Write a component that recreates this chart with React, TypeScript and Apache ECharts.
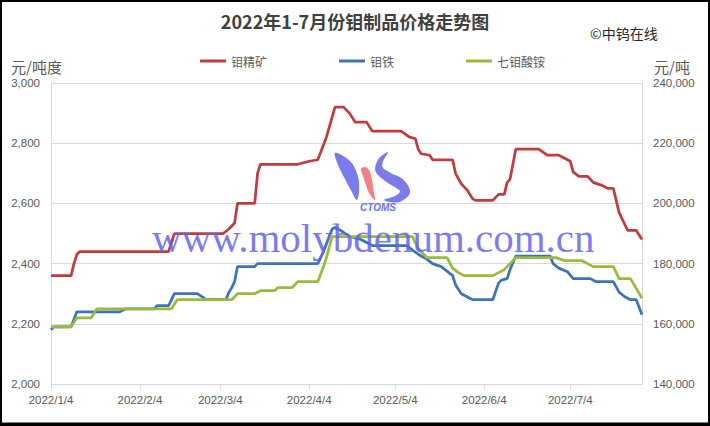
import React, { useEffect, useRef } from 'react';
import * as echarts from 'echarts';

// ---------- data ----------
const titleText = '2022年1-7月份钼制品价格走势图';
const seriesNames = ['钼精矿', '钼铁', '七钼酸铵'];
const leftTicks = { min: 2000, max: 3000, step: 200 };
const rightTicks = { min: 140000, max: 240000, step: 20000 };

const concentrate: [string, number][] = [
  ['2022/1/4', 2360], ['2022/1/11', 2360], ['2022/1/12', 2400], ['2022/1/13', 2430], ['2022/1/14', 2440],
  ['2022/2/14', 2440], ['2022/2/16', 2500], ['2022/3/5', 2500], ['2022/3/7', 2515], ['2022/3/9', 2535],
  ['2022/3/10', 2600], ['2022/3/16', 2600], ['2022/3/17', 2700], ['2022/3/18', 2730], ['2022/3/31', 2730],
  ['2022/4/4', 2740], ['2022/4/7', 2745], ['2022/4/10', 2820], ['2022/4/13', 2920], ['2022/4/16', 2920],
  ['2022/4/18', 2900], ['2022/4/20', 2870], ['2022/4/24', 2870], ['2022/4/26', 2840], ['2022/5/6', 2840],
  ['2022/5/9', 2820], ['2022/5/11', 2815], ['2022/5/12', 2780], ['2022/5/13', 2765], ['2022/5/16', 2760],
  ['2022/5/17', 2745], ['2022/5/24', 2745], ['2022/5/25', 2700], ['2022/5/27', 2665], ['2022/5/29', 2645],
  ['2022/5/31', 2615], ['2022/6/1', 2610], ['2022/6/7', 2610], ['2022/6/9', 2630], ['2022/6/11', 2630],
  ['2022/6/12', 2670], ['2022/6/13', 2680], ['2022/6/15', 2780], ['2022/6/23', 2780], ['2022/6/26', 2760],
  ['2022/6/30', 2760], ['2022/7/4', 2740], ['2022/7/5', 2705], ['2022/7/7', 2690], ['2022/7/10', 2690],
  ['2022/7/12', 2670], ['2022/7/15', 2660], ['2022/7/17', 2650], ['2022/7/19', 2650], ['2022/7/21', 2570],
  ['2022/7/24', 2510], ['2022/7/27', 2510], ['2022/7/29', 2480],
];

const ferroMo: [string, number][] = [
  ['2022/1/4', 158000], ['2022/1/5', 159000], ['2022/1/11', 159000], ['2022/1/13', 164000], ['2022/1/28', 164000],
  ['2022/1/30', 165000], ['2022/2/9', 165000], ['2022/2/10', 166000], ['2022/2/14', 166000], ['2022/2/16', 170000],
  ['2022/2/24', 170000], ['2022/2/26', 168800], ['2022/2/27', 168000], ['2022/3/6', 168000], ['2022/3/7', 170500],
  ['2022/3/8', 172000], ['2022/3/9', 174000], ['2022/3/10', 179000], ['2022/3/16', 179000], ['2022/3/17', 180000],
  ['2022/4/7', 180000], ['2022/4/9', 184000], ['2022/4/12', 191500], ['2022/4/13', 192000], ['2022/4/15', 191000],
  ['2022/4/18', 189000], ['2022/4/22', 188000], ['2022/4/26', 186000], ['2022/5/8', 186000], ['2022/5/10', 184500],
  ['2022/5/13', 182500], ['2022/5/15', 181500], ['2022/5/17', 180000], ['2022/5/20', 179000], ['2022/5/22', 177500],
  ['2022/5/24', 176000], ['2022/5/25', 173000], ['2022/5/27', 170000], ['2022/5/29', 169000], ['2022/5/31', 168000],
  ['2022/6/7', 168000], ['2022/6/9', 173500], ['2022/6/10', 174500], ['2022/6/12', 175000], ['2022/6/13', 178000],
  ['2022/6/15', 182500], ['2022/6/27', 182500], ['2022/6/28', 180000], ['2022/6/30', 178500], ['2022/7/3', 177300],
  ['2022/7/5', 175000], ['2022/7/11', 175000], ['2022/7/13', 174000], ['2022/7/19', 174000], ['2022/7/21', 170500],
  ['2022/7/23', 169000], ['2022/7/25', 168000], ['2022/7/27', 168000], ['2022/7/29', 163000],
];

const apm: [string, number][] = [
  ['2022/1/4', 159000], ['2022/1/11', 159000], ['2022/1/13', 162000], ['2022/1/18', 162000], ['2022/1/20', 165000],
  ['2022/2/15', 165000], ['2022/2/17', 168000], ['2022/3/8', 168000], ['2022/3/10', 170000], ['2022/3/16', 170000],
  ['2022/3/18', 171000], ['2022/3/23', 171000], ['2022/3/24', 172000], ['2022/3/29', 172000], ['2022/3/31', 174000],
  ['2022/4/7', 174000], ['2022/4/9', 179000], ['2022/4/10', 182000], ['2022/4/12', 189000], ['2022/5/10', 189000],
  ['2022/5/12', 185000], ['2022/5/15', 182000], ['2022/5/22', 182000], ['2022/5/24', 178500], ['2022/5/26', 177000],
  ['2022/5/28', 176000], ['2022/6/7', 176000], ['2022/6/9', 177000], ['2022/6/11', 178000], ['2022/6/13', 180000],
  ['2022/6/15', 182000], ['2022/6/29', 182000], ['2022/7/2', 181000], ['2022/7/8', 181000], ['2022/7/10', 180000],
  ['2022/7/12', 179000], ['2022/7/19', 179000], ['2022/7/21', 175000], ['2022/7/25', 175000], ['2022/7/29', 168500],
];

// daily category axis from 2022/1/4 to 2022/7/29
const dayCategories: string[] = [];
for (let t = Date.UTC(2022, 0, 4); t <= Date.UTC(2022, 6, 29); t += 86400000) {
  const d = new Date(t);
  dayCategories.push(`${d.getUTCFullYear()}/${d.getUTCMonth() + 1}/${d.getUTCDate()}`);
}

const RED = '#c13b3f';
const BLUE = '#3e74b7';
const GREEN = '#9aba3b';
const AXIS_GREY = '#d9d9d9';
const LABEL = '#595959';
const LOGO_BLUE = '#7474ed';
const LOGO_PINK = '#f27a7c';

const isMonthTick = (_i: number, v: string) => String(v).split('/')[2] === '4';

export default function App() {
  const ref = useRef<HTMLDivElement>(null);
  useEffect(() => {
    if (!ref.current) return;
    const chart = echarts.init(ref.current, undefined, { renderer: 'svg' });
    const labelFont = { fontFamily: 'Liberation Sans', fontSize: 11.5, color: LABEL };
    chart.setOption({
      animation: false,
      backgroundColor: '#ffffff',
      grid: { left: 51, right: 68, top: 83, bottom: 42, containLabel: false, outerBoundsMode: 'none' },
      legend: {
        data: seriesNames,
        left: 195,
        top: 50,
        icon: 'rect',
        itemWidth: 26,
        itemHeight: 3,
        itemGap: 72,
        textStyle: { fontFamily: 'Noto Sans CJK SC', fontSize: 12, color: LABEL },
      },
      xAxis: {
        type: 'category',
        data: dayCategories,
        boundaryGap: false,
        axisLine: { onZero: false, lineStyle: { color: AXIS_GREY, width: 1 } },
        axisTick: { show: true, interval: isMonthTick, length: 5, lineStyle: { color: AXIS_GREY } },
        axisLabel: { interval: isMonthTick, margin: 10, ...labelFont },
        splitLine: { show: false },
      },
      yAxis: [
        {
          type: 'value',
          min: leftTicks.min,
          max: leftTicks.max,
          interval: leftTicks.step,
          axisLine: { show: true, lineStyle: { color: AXIS_GREY } },
          axisTick: { show: false },
          splitLine: { show: true, lineStyle: { color: AXIS_GREY, width: 1 } },
          axisLabel: { margin: 11, formatter: (v: number) => v.toLocaleString('en-US'), ...labelFont },
        },
        {
          type: 'value',
          min: rightTicks.min,
          max: rightTicks.max,
          interval: rightTicks.step,
          axisLine: { show: true, lineStyle: { color: AXIS_GREY } },
          axisTick: { show: false },
          splitLine: { show: false },
          axisLabel: { margin: 11, formatter: (v: number) => v.toLocaleString('en-US'), ...labelFont },
        },
      ],
      series: [
        {
          name: seriesNames[0], type: 'line', yAxisIndex: 0, data: concentrate,
          showSymbol: false, symbol: 'none', color: RED, lineStyle: { width: 2.75, color: RED }, z: 3,
        },
        {
          name: seriesNames[1], type: 'line', yAxisIndex: 1, data: ferroMo,
          showSymbol: false, symbol: 'none', color: BLUE, lineStyle: { width: 2.75, color: BLUE }, z: 3,
        },
        {
          name: seriesNames[2], type: 'line', yAxisIndex: 1, data: apm,
          showSymbol: false, symbol: 'none', color: GREEN, lineStyle: { width: 2.75, color: GREEN }, z: 4,
        },
      ],
      graphic: [
        {
          type: 'text', x: 355, y: 21, z: 50,
          style: { text: titleText, fontFamily: 'Noto Sans CJK SC', fontSize: 18, fontWeight: 'bold', fill: '#404040', align: 'center', verticalAlign: 'middle' },
        },
        {
          type: 'text', x: 590, y: 33, z: 50,
          style: { text: '©中钨在线', fontFamily: 'Noto Sans CJK SC', fontSize: 14, fill: '#262626', align: 'left', verticalAlign: 'middle' },
        },
        {
          type: 'text', x: 11, y: 66, z: 50,
          style: { text: '元/吨度', fontFamily: 'Noto Sans CJK SC', fontSize: 15, fill: LABEL, align: 'left', verticalAlign: 'middle' },
        },
        {
          type: 'text', x: 654, y: 66, z: 50,
          style: { text: '元/吨', fontFamily: 'Noto Sans CJK SC', fontSize: 15, fill: LABEL, align: 'left', verticalAlign: 'middle' },
        },
        // watermark logo (CTOMS)
        {
          type: 'polygon', z: 60,
          shape: { smooth: 0.35, points: [[335, 153], [350.4, 161.4], [357.7, 175.6], [359.2, 190.2], [356.7, 200], [351.8, 191.8], [345.7, 180.4], [339.6, 168.6]] },
          style: { fill: LOGO_BLUE, opacity: 0.95 },
        },
        {
          type: 'polygon', z: 60,
          shape: { smooth: 0.35, points: [[361, 169], [365, 167], [369, 170], [372, 180], [373.5, 190], [375, 200], [369, 193], [366, 185], [363, 176]] },
          style: { fill: LOGO_PINK, opacity: 0.95 },
        },
        {
          type: 'polygon', z: 60,
          shape: {
            smooth: 0.35,
            points: [[388, 152], [382.9, 161.7], [382.7, 167.5], [390.9, 173], [403.5, 179.8], [410, 192.7], [398.4, 202.2], [384, 200],
              [395.6, 195.8], [400, 191.3], [396.5, 188.2], [385.1, 181], [375.3, 170.5], [379.1, 158.3]],
          },
          style: { fill: LOGO_BLUE, opacity: 0.95 },
        },
        {
          type: 'text', x: 378, y: 207, z: 60,
          style: { text: 'CTOMS', fontFamily: 'Liberation Sans', fontSize: 10, fontWeight: 'bold', fontStyle: 'italic', fill: '#6e6eee', align: 'center', verticalAlign: 'middle' },
        },
        // watermark text
        {
          type: 'text', x: 152, y: 238, z: 60,
          style: { text: 'www.molybdenum.com.cn', fontFamily: 'Liberation Serif', fontSize: 41, fill: 'rgba(100,100,238,0.85)', align: 'left', verticalAlign: 'middle' },
        },
        // frame
        { type: 'rect', z: 70, shape: { x: 1, y: 1, width: 708, height: 424 }, style: { fill: 'none', stroke: '#000', lineWidth: 2 } },
        { type: 'line', z: 70, shape: { x1: 0, y1: 423.5, x2: 710, y2: 423.5 }, style: { stroke: '#000', lineWidth: 2 } },
      ],
    });
    return () => chart.dispose();
  }, []);
  return <div ref={ref} style={{ position: 'fixed', left: 0, top: 0, width: 710, height: 426 }} />;
}
